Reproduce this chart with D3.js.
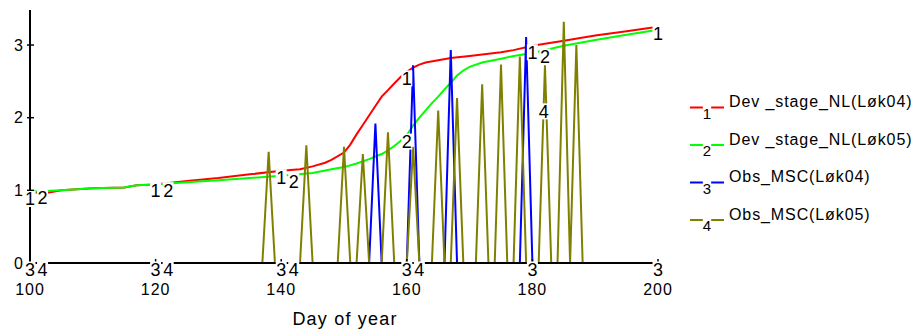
<!DOCTYPE html>
<html>
<head>
<meta charset="utf-8">
<script src="https://cdn.jsdelivr.net/npm/d3@7"></script>
<style>
  body { margin: 0; background: #fff; }
  text { font-family: "Liberation Sans", Arial, sans-serif; fill: #000; }
</style>
</head>
<body>
<div id="chart"></div>
<script>
// Simulated development stage (day, value)
const devLok04 = [[100,0.97],[103,0.97],[105,1.0],[110,1.03],[115,1.04],[117,1.07],[120,1.08],[125,1.13],
  [130,1.17],[135,1.22],[140,1.27],[143,1.29],[145,1.33],[147,1.38],[148,1.42],[150,1.52],[151,1.63],
  [152,1.77],[153,1.90],[154,2.03],[155,2.16],[156,2.29],[157,2.38],[158,2.47],[159,2.56],[160,2.63],
  [161,2.69],[162,2.73],[163,2.76],[165,2.79],[167,2.82],[170,2.85],[172,2.87],[175,2.90],[177,2.93],
  [180,2.99],[185,3.06],[190,3.13],[195,3.19],[200,3.25]];

const devLok05 = [[100,0.98],[105,1.0],[110,1.03],[115,1.04],[117,1.07],[120,1.08],[125,1.11],[130,1.14],
  [135,1.17],[140,1.2],[145,1.24],[148,1.29],[150,1.32],[152,1.37],[154,1.43],[156,1.50],[157,1.55],
  [158,1.61],[159,1.68],[160,1.76],[161,1.89],[162,2.0],[163,2.1],[164,2.2],[165,2.29],[166,2.39],
  [167,2.48],[168,2.58],[169,2.65],[170,2.70],[172,2.76],[175,2.81],[177,2.85],[180,2.89],[185,2.99],
  [190,3.07],[195,3.14],[200,3.21]];

// Observed stage, zero outside observation days
const obsLok04 = [[100,0],[154,0],[155,1.92],[156,0],[160,0],[161,2.72],[162,0],[166,0],[167,2.93],
  [168,0],[178,0],[179,3.11],[180,0],[200,0]];

const obsLok05 = [[100,0],[137,0],[138,1.53],[139,0],[143,0],[144,1.62],[145,0],[149,0],[150,1.60],
  [151,0],[152,0],[153,1.50],[154,0],[156,0],[157,1.80],[158,0],[160,0],[161,1.60],[162,0],[164,0],
  [165,2.10],[166,0],[167,0],[168,2.27],[169,0],[171,0],[172,2.46],[173,0],[174,0],[175,2.73],[176,0],
  [177,0],[178,2.84],[179,0],[181,0],[182,2.72],[183,0],[184,0],[185,3.32],[186,0],[187,3.0],[188,0]];

const seriesNames = ["Dev _stage_NL(Løk04)", "Dev _stage_NL(Løk05)", "Obs_MSC(Løk04)", "Obs_MSC(Løk05)"];
const seriesColors = ["#ff0000", "#00ff00", "#0000ff", "#808000"];
const seriesData = [devLok04, devLok05, obsLok04, obsLok05];

// days where the series number is written on the curve
const labelDays = [
  [100, 120, 140, 160, 180, 200],
  [102, 122, 142, 160, 182],
  [100, 120, 140, 160, 180, 200],
  [102, 122, 142, 162, 181.8]
];

const xTicks = [100, 120, 140, 160, 180, 200];
const yTicks = [0, 1, 2, 3];

const width = 916, height = 330;

const svg = d3.select("#chart")
    .append("svg")
    .attr("width", width)
    .attr("height", height);

const x = d3.scaleLinear().domain([100, 200]).range([30, 658]);
const y = d3.scaleLinear().domain([0, 3.5]).range([263, 8.7]);

const line = d3.line()
    .x(d => x(d[0]))
    .y(d => y(d[1]));

// data lines
seriesData.forEach((data, i) => {
    svg.append("path")
        .datum(data)
        .attr("fill", "none")
        .attr("stroke", seriesColors[i])
        .attr("stroke-width", 2)
        .attr("d", line);
});

// axes
svg.append("line")
    .attr("x1", x(100)).attr("x2", x(100))
    .attr("y1", y(0)).attr("y2", 10)
    .attr("stroke", "#000").attr("stroke-width", 2);

svg.append("line")
    .attr("x1", x(100) - 1).attr("x2", x(200) + 2)
    .attr("y1", y(0)).attr("y2", y(0))
    .attr("stroke", "#000").attr("stroke-width", 2);

yTicks.forEach(t => {
    svg.append("line")
        .attr("x1", x(100) - 3).attr("x2", x(100) + 4)
        .attr("y1", y(t)).attr("y2", y(t))
        .attr("stroke", "#000").attr("stroke-width", 1.5);
    svg.append("text")
        .attr("x", 23)
        .attr("y", y(t))
        .attr("dy", "0.36em")
        .attr("text-anchor", "end")
        .style("font-size", "16px")
        .text(t);
});

xTicks.forEach(t => {
    svg.append("line")
        .attr("x1", x(t)).attr("x2", x(t))
        .attr("y1", y(0) - 4).attr("y2", y(0) + 3)
        .attr("stroke", "#000").attr("stroke-width", 1.5);
    svg.append("text")
        .attr("x", x(t))
        .attr("y", 295)
        .attr("text-anchor", "middle")
        .style("font-size", "16px")
        .style("letter-spacing", "1px")
        .text(t);
});

svg.append("text")
    .attr("x", (x(100) + x(200)) / 2 + 1)
    .attr("y", 325)
    .attr("text-anchor", "middle")
    .style("font-size", "18px")
    .style("letter-spacing", "1.2px")
    .text("Day of year");

// value of a series at a given day
function valueAt(data, day) {
    for (let k = 1; k < data.length; k++) {
        if (day <= data[k][0]) {
            const a = data[k - 1], b = data[k];
            const f = (day - a[0]) / (b[0] - a[0]);
            return a[1] + f * (b[1] - a[1]);
        }
    }
    return data[data.length - 1][1];
}

// a number with a white box behind it, top edge at (cx, top)
function boxedLabel(cx, top, str, size) {
    const g = svg.append("g");
    const rect = g.append("rect").attr("fill", "#fff");
    const txt = g.append("text")
        .attr("x", cx)
        .attr("y", top)
        .attr("dy", "0.72em")
        .attr("text-anchor", "middle")
        .style("font-size", size + "px")
        .text(str);
    const bb = txt.node().getBBox();
    rect.attr("x", bb.x - 0.5)
        .attr("y", top - 1.5)
        .attr("width", bb.width + 1)
        .attr("height", size * 0.72 + 3);
}

// curve labels
seriesData.forEach((data, i) => {
    labelDays[i].forEach(day => {
        boxedLabel(x(day), y(valueAt(data, day)), String(i + 1), 18);
    });
});

// legend
const legend = svg.append("g");
seriesNames.forEach((name, i) => {
    const ly = 107.5 + i * 37.5;
    legend.append("line")
        .attr("x1", 690).attr("x2", 724)
        .attr("y1", ly).attr("y2", ly)
        .attr("stroke", seriesColors[i])
        .attr("stroke-width", 2);
    legend.append("text")
        .attr("x", 729)
        .attr("y", ly - 0.5)
        .style("font-size", "16px")
        .style("letter-spacing", "0.9px")
        .text(name);
});
seriesNames.forEach((name, i) => {
    const ly = 107.5 + i * 37.5;
    const g = svg.append("g");
    const rect = g.append("rect").attr("fill", "#fff");
    const txt = g.append("text")
        .attr("x", 707)
        .attr("y", ly + 0.5)
        .attr("dy", "0.72em")
        .attr("text-anchor", "middle")
        .style("font-size", "15px")
        .text(i + 1);
    const bb = txt.node().getBBox();
    rect.attr("x", bb.x).attr("y", ly - 1.5)
        .attr("width", bb.width).attr("height", 13);
});
</script>
</body>
</html>
